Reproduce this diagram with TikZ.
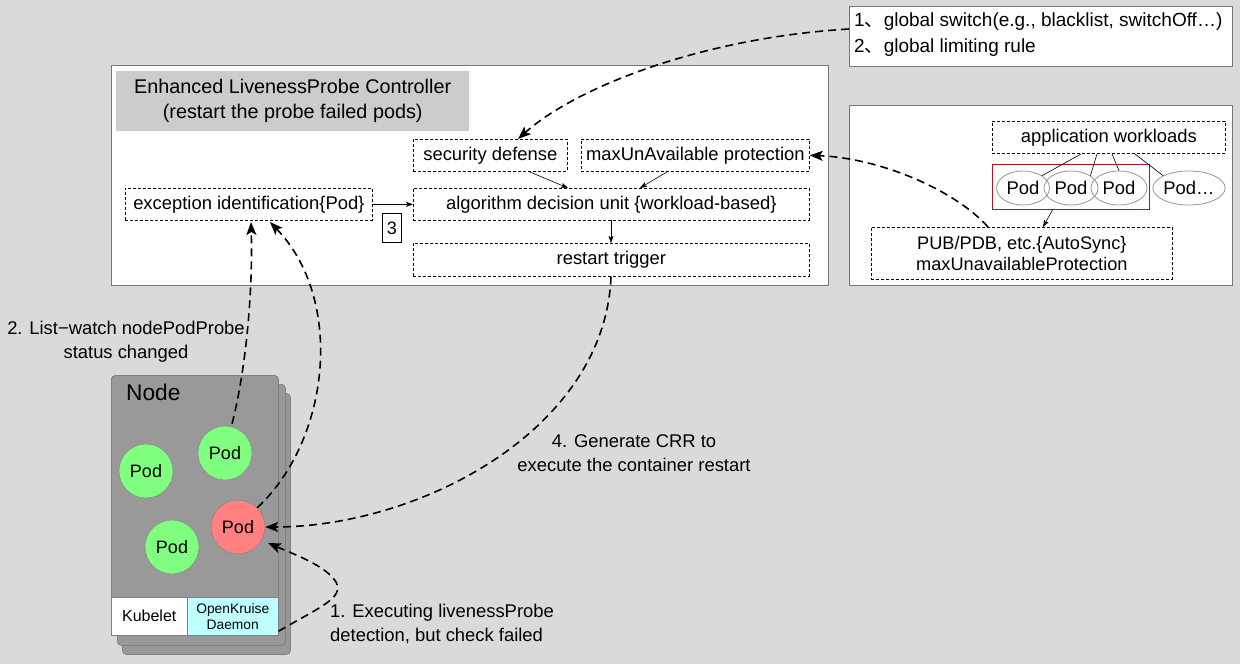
\documentclass[tikz,border=0pt]{standalone}
\usepackage{fontspec}
\setmainfont{Liberation Sans}
\newfontfamily\cjkfont{Noto Sans CJK SC}
\usetikzlibrary{arrows.meta,shapes.geometric}
\definecolor{bgc}{RGB}{218,218,218}
\definecolor{panelline}{RGB}{120,120,120}
\definecolor{titlefill}{RGB}{204,204,204}
\definecolor{nodefill}{RGB}{153,153,153}
\definecolor{nodeline}{RGB}{128,128,128}
\definecolor{podgreen}{RGB}{128,255,128}
\definecolor{podred}{RGB}{255,128,128}
\definecolor{daemoncyan}{RGB}{192,255,255}
\definecolor{redbox}{RGB}{168,20,40}
\definecolor{ellline}{RGB}{150,150,150}
\tikzset{
  panel/.style={draw=panelline, fill=white, line width=0.9pt, inner sep=0pt, anchor=north west},
  dbox/.style={draw=black, dash pattern=on 3pt off 2pt, line width=0.7pt, fill=white, inner sep=0pt, font=\fontsize{18.4}{21}\selectfont},
  smallarrow/.style={-{Stealth[length=7pt,width=5pt,inset=1.5pt]}, line width=0.6pt},
  bigdash/.style={line width=1.6pt, dash pattern=on 8pt off 5pt, -{Stealth[length=13pt,width=10pt,inset=3pt]}},
  pod/.style={circle, minimum size=54pt, inner sep=0pt, draw=nodeline, line width=0.4pt, font=\fontsize{18}{20}\selectfont},
  podell/.style={ellipse, draw=ellline, line width=0.8pt, inner sep=0pt, font=\fontsize{18.4}{21}\selectfont},
  nodecard/.style={draw=nodeline, fill=nodefill, rounded corners=4pt, line width=0.8pt, inner sep=0pt, anchor=north west},
  lbl/.style={inner sep=0pt, font=\fontsize{18.4}{24}\selectfont}
}
\begin{document}
\begin{tikzpicture}[x=1pt,y=-1pt]
\fill[bgc] (0,0) rectangle (1240,664);
\useasboundingbox (0,0) rectangle (1240,664);

% top-right note box
\node[panel, minimum width=383pt, minimum height=60pt] (note) at (849,6) {};
\node[lbl, anchor=west, align=left, font=\fontsize{19}{26}\selectfont] (notetext) at (854,35) {1{\cjkfont 、}global switch(e.g., blacklist, switchOff…)\\2{\cjkfont 、}global limiting rule};

% main controller panel
\node[panel, minimum width=717pt, minimum height=220pt] (ctrl) at (111,65) {};
\node[fill=titlefill, minimum width=353pt, minimum height=60pt, inner sep=0pt, anchor=north west, align=center, font=\fontsize{19.8}{25}\selectfont] (title) at (116,71) {Enhanced LivenessProbe Controller\\(restart the probe failed pods)};

\node[dbox, minimum width=154pt, minimum height=32pt, anchor=north west] (sec) at (413,139) {security defense};
\node[dbox, minimum width=228pt, minimum height=32pt, anchor=north west] (maxun) at (581,139) {maxUnAvailable protection};
\node[dbox, minimum width=247pt, minimum height=32pt, anchor=north west] (exc) at (125,188) {exception identification\{Pod\}};
\node[dbox, minimum width=396pt, minimum height=32pt, anchor=north west] (algo) at (413,188) {algorithm decision unit \{workload-based\}};
\node[dbox, minimum width=396pt, minimum height=33pt, anchor=north west] (restart) at (413,243) {restart trigger};
\node[draw=black, fill=white, line width=0.7pt, minimum width=19pt, minimum height=29pt, inner sep=0pt, anchor=north west, font=\fontsize{18}{20}\selectfont] (three) at (382,213) {3};

\draw[smallarrow] (exc.east) -- (algo.west);
\draw[smallarrow] (sec.south) ++(39,0) coordinate (secout) -- (568,188) coordinate (algoin1);
\draw[smallarrow] (maxun.south) ++(-28,0) coordinate (maxout) -- (640,188) coordinate (algoin2);
\draw[smallarrow] (611,220) coordinate (algoout) -- (restart.north -| algoout);

% right workload panel
\node[panel, minimum width=383pt, minimum height=180pt] (wpanel) at (849,105) {};
\node[dbox, minimum width=233pt, minimum height=32pt, anchor=north west] (apps) at (992,121) {application workloads};
\node[draw=redbox, line width=0.9pt, minimum width=157pt, minimum height=45pt, inner sep=0pt, anchor=north west] (group) at (992,164) {};
\node[podell, minimum width=53pt, minimum height=34pt] (p1) at (1023,188) {Pod};
\node[podell, minimum width=54pt, minimum height=34pt] (p2) at (1071,188) {Pod};
\node[podell, minimum width=56pt, minimum height=34pt] (p3) at (1119,188) {Pod};
\node[podell, minimum width=72pt, minimum height=34pt] (p4) at (1189,188) {Pod…};
\draw[line width=0.6pt] (1081,154) -- (p1.north east);
\draw[line width=0.6pt] (1097,154) -- (p2.north east);
\draw[line width=0.6pt] (1112,154) -- (p3.north);
\draw[line width=0.6pt] (1135,154) -- (p4.north west);
\node[dbox, minimum width=301pt, minimum height=52pt, anchor=north west, align=center, font=\fontsize{18.2}{21}\selectfont] (pub) at (871,227) {PUB/PDB, etc.\{AutoSync\}\\maxUnavailableProtection};
\draw[smallarrow] (1053,209) coordinate (grpout) -- (1043,227) coordinate (pubin);

% Node stack
\node[nodecard, minimum width=168pt, minimum height=261pt] (card3) at (122,393) {};
\node[nodecard, minimum width=168pt, minimum height=261pt] (card2) at (117,384) {};
\node[nodecard, minimum width=167pt, minimum height=259pt] (card1) at (111,375) {};
\node[inner sep=0pt, anchor=west, font=\fontsize{22.7}{24}\selectfont] (nodelbl) at (126,392) {Node};
\node[pod, fill=podgreen] (g1) at (146,471) {Pod};
\node[pod, fill=podgreen] (g2) at (225,453) {Pod};
\node[pod, fill=podgreen] (g3) at (172,547) {Pod};
\node[pod, fill=podred] (rp) at (238,527) {Pod};
\node[fill=white, draw=nodeline, line width=0.5pt, minimum width=76pt, minimum height=38pt, inner sep=0pt, anchor=north west, font=\fontsize{16}{18}\selectfont] (kubelet) at (111,597) {Kubelet};
\node[fill=daemoncyan, draw=nodeline, line width=0.5pt, minimum width=91pt, minimum height=38pt, inner sep=0pt, anchor=north west, align=center, font=\fontsize{13.8}{16}\selectfont] (daemon) at (187,597) {OpenKruise\\Daemon};

% dashed connectors
\draw[bigdash] (note.west |- 0,29) .. controls (700,38) and (575,88) .. (518,139);
\draw[bigdash] (988,227) .. controls (955,190) and (880,158) .. (maxun.east);
\draw[bigdash] (g2.north) ++(7,-2) .. controls (246,370) and (253,290) .. (251,222);
\draw[bigdash] (rp.north east) .. controls (330,440) and (345,300) .. (270,222);
\draw[bigdash] (restart.south -| algoout) .. controls (605,430) and (420,527) .. (rp.east);
\draw[bigdash] (daemon.east) ++(0,15) .. controls (318,608) and (345,598) .. (336,582) .. controls (326,566) and (296,555) .. (268,543);

% labels
\node[lbl, align=center] (l2) at (126,342) {2. List−watch nodePodProbe\\status changed};
\node[lbl, align=center] (l4) at (634,453) {4. Generate CRR to\\execute the container restart};
\node[lbl, align=left, anchor=west] (l1) at (330,624) {1. Executing livenessProbe\\detection, but check failed};
\end{tikzpicture}
\end{document}
